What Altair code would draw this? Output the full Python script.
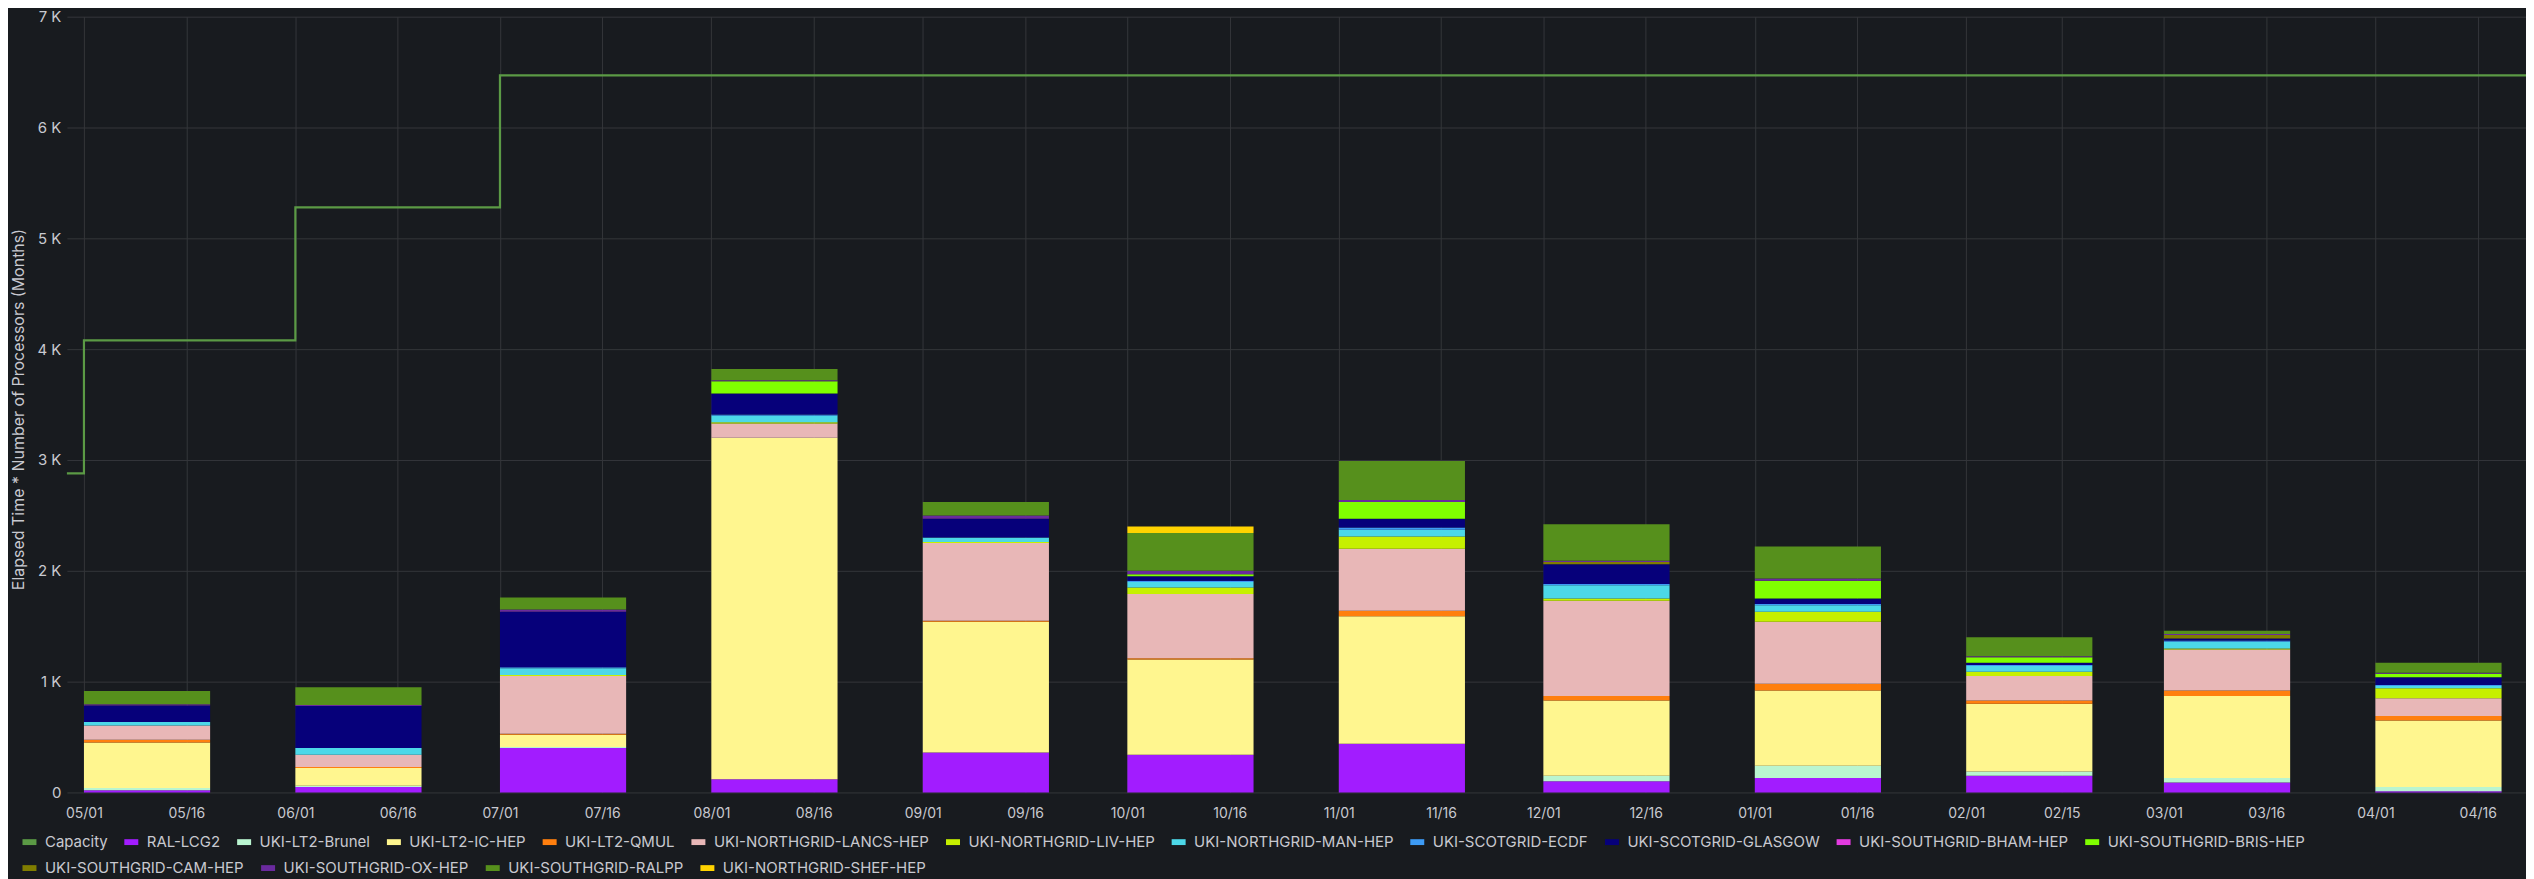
import altair as alt
import pandas as pd

# ---------------- data ----------------
months = ["2023-05-01", "2023-06-01", "2023-07-01", "2023-08-01", "2023-09-01", "2023-10-01",
          "2023-11-01", "2023-12-01", "2024-01-01", "2024-02-01", "2024-03-01", "2024-04-01"]

sites = ["RAL-LCG2", "UKI-LT2-Brunel", "UKI-LT2-IC-HEP", "UKI-LT2-QMUL",
         "UKI-NORTHGRID-LANCS-HEP", "UKI-NORTHGRID-LIV-HEP", "UKI-NORTHGRID-MAN-HEP",
         "UKI-SCOTGRID-ECDF", "UKI-SCOTGRID-GLASGOW", "UKI-SOUTHGRID-BHAM-HEP",
         "UKI-SOUTHGRID-BRIS-HEP", "UKI-SOUTHGRID-CAM-HEP", "UKI-SOUTHGRID-OX-HEP",
         "UKI-SOUTHGRID-RALPP", "UKI-NORTHGRID-SHEF-HEP"]

site_colors = ["#A21CFF", "#B9F5D0", "#FFF68F", "#FF7F0E", "#E8B7B7", "#C6F000", "#4CD8E8",
               "#3D9BF5", "#06007A", "#E33BE0", "#80FF00", "#807D00", "#6A2A9E", "#56901C",
               "#FFD300"]

ral_lcg2 = [20, 50, 400, 120, 360, 340, 440, 100, 130, 150, 90, 10]
lt2_brunel = [20, 10, 10, 0, 0, 0, 0, 50, 110, 40, 40, 40]
lt2_ic = [410, 160, 110, 3080, 1180, 860, 1150, 680, 680, 610, 740, 600]
lt2_qmul = [25, 10, 10, 0, 10, 10, 50, 40, 60, 30, 50, 40]
ng_lancs = [130, 110, 520, 130, 700, 580, 560, 860, 560, 220, 370, 160]
ng_liv = [0, 0, 10, 10, 10, 60, 110, 20, 90, 40, 10, 90]
ng_man = [30, 60, 60, 60, 40, 50, 60, 120, 60, 50, 60, 20]
sg_ecdf = [0, 0, 10, 10, 0, 10, 20, 10, 10, 10, 10, 10]
sg_glasgow = [150, 380, 500, 190, 170, 40, 80, 180, 50, 20, 20, 70]
so_bham = [0, 0, 0, 0, 0, 0, 0, 0, 0, 0, 0, 0]
so_bris = [0, 0, 0, 110, 0, 20, 150, 0, 160, 50, 0, 30]
so_cam = [0, 0, 0, 0, 0, 0, 0, 20, 0, 0, 30, 0]
so_ox = [10, 10, 20, 10, 30, 30, 20, 10, 20, 10, 10, 10]
so_ralpp = [120, 160, 110, 100, 120, 340, 350, 330, 290, 170, 30, 90]
ng_shef = [0, 0, 0, 0, 0, 60, 0, 0, 0, 0, 0, 0]

series = [ral_lcg2, lt2_brunel, lt2_ic, lt2_qmul, ng_lancs, ng_liv, ng_man, sg_ecdf,
          sg_glasgow, so_bham, so_bris, so_cam, so_ox, so_ralpp, ng_shef]

cap_months = ["2023-04-01", "2023-05-01", "2023-06-01", "2023-07-01", "2023-08-01",
              "2023-09-01", "2023-10-01", "2023-11-01", "2023-12-01", "2024-01-01",
              "2024-02-01", "2024-03-01", "2024-04-01", "2024-05-01"]
capacity = [2880, 4080, 5280, 6470, 6470, 6470, 6470, 6470, 6470, 6470, 6470, 6470, 6470, 6470]

tick_days = ["2023-05-01", "2023-05-16", "2023-06-01", "2023-06-16", "2023-07-01", "2023-07-16",
             "2023-08-01", "2023-08-16", "2023-09-01", "2023-09-16", "2023-10-01", "2023-10-16",
             "2023-11-01", "2023-11-16", "2023-12-01", "2023-12-16", "2024-01-01", "2024-01-16",
             "2024-02-01", "2024-02-15", "2024-03-01", "2024-03-16", "2024-04-01", "2024-04-16"]

# ---------------- tables ----------------
rows = []
for i, (site, vals) in enumerate(zip(sites, series)):
    for m, v in zip(months, vals):
        if v > 0:
            start = pd.Timestamp(m)
            rows.append({"site": site, "idx": i, "start": start,
                         "end": start + pd.Timedelta(days=18.5), "value": v})
df = pd.DataFrame(rows)
cap_df = pd.DataFrame({"date": pd.to_datetime(cap_months), "cap": capacity})

def dt(s):
    t = pd.Timestamp(s)
    return alt.DateTime(year=t.year, month=t.month, date=t.day, hours=t.hour)

x_scale = alt.Scale(domain=[alt.DateTime(year=2023, month=4, date=28, hours=12),
                            alt.DateTime(year=2024, month=4, date=23, hours=2)])
y_scale = alt.Scale(domain=[0, 7000], nice=False)

CAP_COLOR = "#5B9A45"
N_ROW1 = 11  # sites shown on first legend row (after Capacity)
row1_names = ["Capacity"] + sites[:N_ROW1]
row1_colors = [CAP_COLOR] + site_colors[:N_ROW1]
row2_names = sites[N_ROW1:]
row2_colors = site_colors[N_ROW1:]

TEXT = "#c8c9d0"
FONT = "Inter"

def make_legend(y):
    return alt.Legend(orient="none", legendX=-45, legendY=y,
                      direction="horizontal", columns=0,
                      title=None, symbolType="M-1,-0.42H1V0.42H-1Z",
                      symbolSize=196, symbolStrokeWidth=0,
                      labelFont=FONT, labelFontSize=15, labelColor=TEXT,
                      labelLimit=500, columnPadding=16, labelOffset=8)

x_axis = alt.Axis(values=[dt(d) for d in tick_days], format="%m/%d", title=None,
                  labelPadding=14, labelFlush=False, labelOverlap=False, labelFontSize=14)
y_axis = alt.Axis(values=[0, 1000, 2000, 3000, 4000, 5000, 6000, 7000],
                  labelExpr="datum.value == 0 ? '0' : (datum.value / 1000) + ' K'",
                  title="Elapsed Time * Number of Processors (Months)",
                  titleX=-48, titleY=393, titleAngle=270, titleAlign="center",
                  titleBaseline="middle", labelPadding=6, labelFontSize=15,
                  titleFontSize=16)

base = alt.Chart(df).transform_stack(
    stack="value", groupby=["start"], as_=["y0", "y1"],
    sort=[alt.SortField("idx", order="ascending")],
)

bars1 = base.transform_filter(alt.datum.idx < N_ROW1).mark_bar(strokeWidth=0).encode(
    x=alt.X("start:T", scale=x_scale, axis=x_axis),
    x2="end:T",
    y=alt.Y("y0:Q", scale=y_scale, axis=y_axis),
    y2="y1:Q",
    color=alt.Color("site:N", scale=alt.Scale(domain=row1_names, range=row1_colors),
                    legend=make_legend(819)),
)

bars2 = base.transform_filter(alt.datum.idx >= N_ROW1).mark_bar(strokeWidth=0).encode(
    x=alt.X("start:T", scale=x_scale),
    x2="end:T",
    y=alt.Y("y0:Q", scale=y_scale),
    y2="y1:Q",
    fill=alt.Fill("site:N", scale=alt.Scale(domain=row2_names, range=row2_colors),
                  legend=make_legend(845)),
)

line = alt.Chart(cap_df).mark_line(interpolate="step-after", color=CAP_COLOR,
                                   strokeWidth=2.2, clip=True).encode(
    x=alt.X("date:T", scale=x_scale),
    y=alt.Y("cap:Q", scale=y_scale),
)

chart = alt.layer(bars1, bars2, line).properties(
    width=2463, height=777,
    background="#181b1f",
    padding={"left": 59, "top": 8, "right": 0, "bottom": 92},
    autosize=alt.AutoSizeParams(type="none"),
).configure_view(stroke=None).configure_axis(
    gridColor="#34363a", gridWidth=1, domain=False, ticks=False,
    labelColor=TEXT, labelFont=FONT,
    titleColor=TEXT, titleFont=FONT, titleFontWeight="normal",
)

chart.save("out.html", embed_options={"renderer": "svg", "actions": False})
